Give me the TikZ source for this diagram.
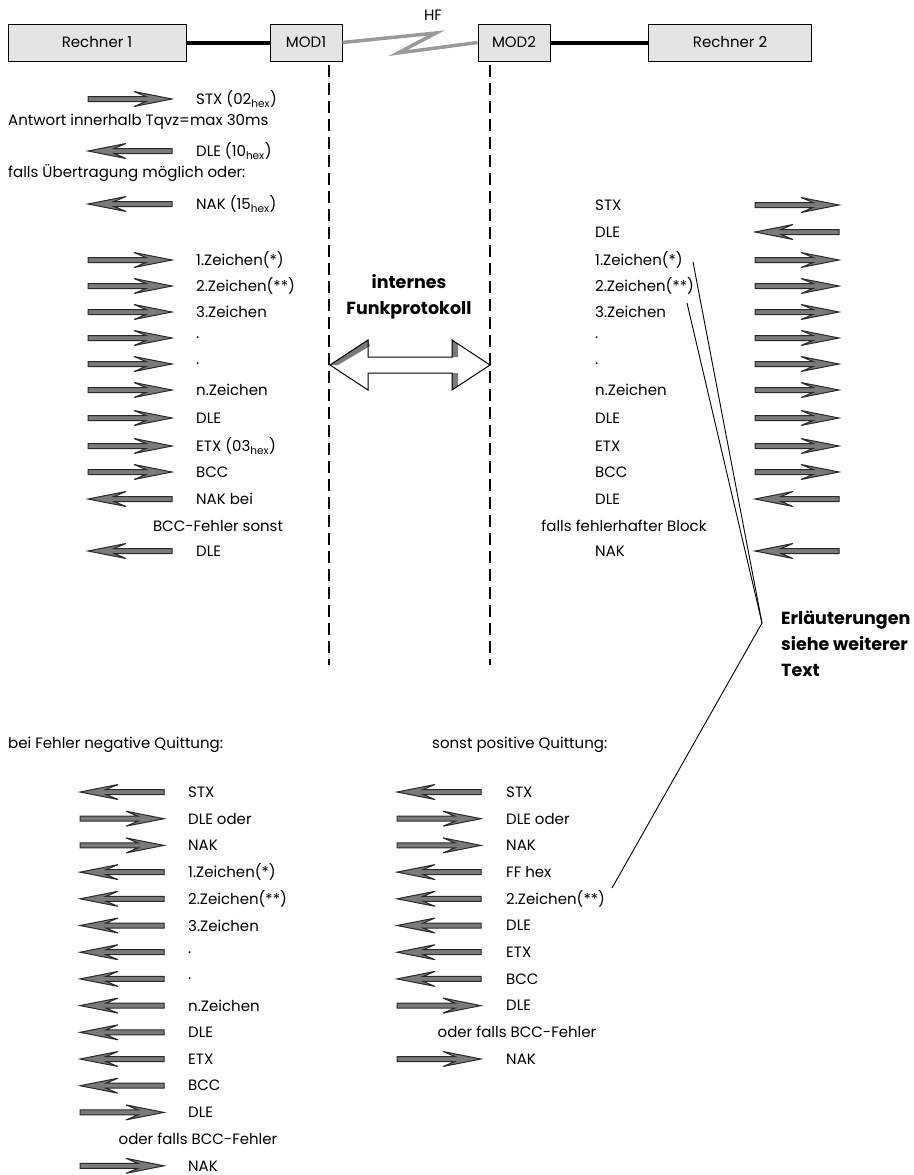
\documentclass[tikz,border=0pt]{standalone}
\usepackage{fontspec}
\setmainfont{Poppins}
\definecolor{boxgray}{HTML}{E4E4E4}
\definecolor{arrgray}{HTML}{7A7A7A}
\definecolor{arrdark}{HTML}{2A2A2A}
\definecolor{ziggray}{HTML}{9A9A9A}
\begin{document}
\begin{tikzpicture}[x=1pt,y=-1pt,
  lbl/.style={anchor=west,inner sep=0pt,font=\fontsize{15}{17}\selectfont},
  clbl/.style={anchor=center,inner sep=0pt,font=\fontsize{15}{17}\selectfont},
  box/.style={draw=black,fill=boxgray,line width=0.8pt,inner sep=0pt,font=\fontsize{15}{17}\selectfont},
  arrowshape/.style={fill=arrgray,draw=arrdark,line width=1pt,line join=miter},
  pics/rar/.style={code={\path[arrowshape] (0,-2.5) -- (58,-2.5) -- (46,-7.5) -- (84,0) -- (46,7.5) -- (58,2.5) -- (0,2.5) -- cycle;}},
  pics/lar/.style={code={\path[arrowshape] (84,-2.5) -- (26,-2.5) -- (38,-7.5) -- (0,0) -- (38,7.5) -- (26,2.5) -- (84,2.5) -- cycle;}},
  dashline/.style={line width=2pt,dash pattern=on 12pt off 6pt},
  leader/.style={line width=0.9pt},
  bigbold/.style={inner sep=0pt,font=\fontsize{17.5}{26}\selectfont\bfseries},
]
\useasboundingbox (0,0) rectangle (913,1175);

% top row
\node[box,minimum width=178pt,minimum height=37pt] (r1) at (97,42.5) {Rechner 1};
\node[box,minimum width=72pt,minimum height=37pt] (m1) at (306,42.5) {MOD1};
\node[box,minimum width=72pt,minimum height=37pt] (m2) at (514,42.5) {MOD2};
\node[box,minimum width=163pt,minimum height=37pt] (r2) at (730,42.5) {Rechner 2};
\draw[line width=4pt] (r1.east) -- (m1.west);
\draw[line width=4pt] (m2.east) -- (r2.west);
\coordinate (zA) at (436,33);
\coordinate (zB) at (398,53);
\draw[line width=3.5pt,ziggray,line join=miter] (m1.east) -- (zA) -- (zB) -- (m2.west);
\node[clbl] (hf) at (433,15) {HF};

% dashed lines
\coordinate (d1t) at (329,65); \coordinate (d1b) at (329,665);
\coordinate (d2t) at (490,65); \coordinate (d2b) at (490,665);
\draw[dashline] (d1t) -- (d1b);
\draw[dashline] (d2t) -- (d2b);

% centre
\node[bigbold,anchor=center,align=center] (ifp) at (409,297) {internes\\Funkprotokoll};
\fill[white] (330,365) -- (368,340) -- (368,357) -- (452,357) -- (452,340) -- (490,365) -- (452,390) -- (452,373) -- (368,373) -- (368,390) -- cycle;
\fill[arrgray] (330,365) -- (368,340) -- (370,346) -- (338,365) -- cycle;
\fill[arrgray] (452,340) -- (458,344) -- (458,357) -- (452,357) -- cycle;
\fill[arrgray] (452,373) -- (458,373) -- (458,386) -- (452,390) -- cycle;
\draw[line width=1pt,line join=miter] (330,365) -- (368,340) -- (368,357) -- (452,357) -- (452,340) -- (490,365) -- (452,390) -- (452,373) -- (368,373) -- (368,390) -- cycle;

% left top column
\pic at (88,99) {rar};   \node[lbl] (lt1) at (196,99) {STX (02\textsubscript{hex})};
\node[lbl] (ant) at (8,122) {Antwort innerhalb Tqvz=max 30ms};
\pic at (88,151) {lar};  \node[lbl] (lt2) at (196,151) {DLE (10\textsubscript{hex})};
\node[lbl] (fal) at (8,173) {falls Übertragung möglich oder:};
\pic at (88,204) {lar};  \node[lbl] (lt3) at (196,204) {NAK (15\textsubscript{hex})};
\pic at (88,260) {rar};  \node[lbl] (lt4) at (196,260) {1.Zeichen(*)};
\pic at (88,286) {rar};  \node[lbl] (lt5) at (196,286) {2.Zeichen(**)};
\pic at (88,312) {rar};  \node[lbl] (lt6) at (196,312) {3.Zeichen};
\pic at (88,338) {rar};  \node[lbl] (lt7) at (196,338) {.};
\pic at (88,364) {rar};  \node[lbl] (lt8) at (196,364) {.};
\pic at (88,390) {rar};  \node[lbl] (lt9) at (196,390) {n.Zeichen};
\pic at (88,418) {rar};  \node[lbl] (lt10) at (196,418) {DLE};
\pic at (88,446) {rar};  \node[lbl] (lt11) at (196,446) {ETX (03\textsubscript{hex})};
\pic at (88,472) {rar};  \node[lbl] (lt12) at (196,472) {BCC};
\pic at (88,499) {lar};  \node[lbl] (lt13) at (196,499) {NAK bei};
\node[clbl] (lt14) at (218,526) {BCC-Fehler sonst};
\pic at (88,551) {lar};  \node[lbl] (lt15) at (196,551) {DLE};

% right top column
\node[lbl] (rt1) at (595,205) {STX};            \pic at (755,205) {rar};
\node[lbl] (rt2) at (595,232) {DLE};            \pic at (755,232) {lar};
\node[lbl] (rt3) at (595,260) {1.Zeichen(*)};   \pic at (755,260) {rar};
\node[lbl] (rt4) at (595,286) {2.Zeichen(**)};  \pic at (755,286) {rar};
\node[lbl] (rt5) at (595,312) {3.Zeichen};      \pic at (755,312) {rar};
\node[lbl] (rt6) at (595,338) {.};              \pic at (755,338) {rar};
\node[lbl] (rt7) at (595,364) {.};              \pic at (755,364) {rar};
\node[lbl] (rt8) at (595,390) {n.Zeichen};      \pic at (755,390) {rar};
\node[lbl] (rt9) at (595,418) {DLE};            \pic at (755,418) {rar};
\node[lbl] (rt10) at (595,446) {ETX};           \pic at (755,446) {rar};
\node[lbl] (rt11) at (595,472) {BCC};           \pic at (755,472) {rar};
\node[lbl] (rt12) at (595,499) {DLE};           \pic at (755,499) {lar};
\node[clbl] (rt13) at (624,526) {falls fehlerhafter Block};
\node[lbl] (rt14) at (595,551) {NAK};           \pic at (755,551) {lar};

% explanation
\node[bigbold,anchor=north west,align=left] (erl) at (781,611) {Erläuterungen\\siehe weiterer\\Text};
\coordinate (apex) at (762,623);
\coordinate (la) at (693,262);
\coordinate (lb) at (687,303);
\coordinate (lc) at (612,888);
\draw[leader] (la) -- (apex) -- (lc);
\draw[leader] (lb) -- (apex);

% bottom headings
\node[lbl] (neg) at (8,745) {bei Fehler negative Quittung:};
\node[lbl] (pos) at (432,745) {sonst positive Quittung:};

% bottom left column
\pic at (80,792) {lar};     \node[lbl] (lb1) at (188,792) {STX};
\pic at (80,818.7) {rar};   \node[lbl] (lb2) at (188,818.7) {DLE oder};
\pic at (80,845.4) {rar};   \node[lbl] (lb3) at (188,845.4) {NAK};
\pic at (80,872.1) {lar};   \node[lbl] (lb4) at (188,872.1) {1.Zeichen(*)};
\pic at (80,898.8) {lar};   \node[lbl] (lb5) at (188,898.8) {2.Zeichen(**)};
\pic at (80,925.5) {lar};   \node[lbl] (lb6) at (188,925.5) {3.Zeichen};
\pic at (80,952.2) {lar};   \node[lbl] (lb7) at (188,952.2) {.};
\pic at (80,978.9) {lar};   \node[lbl] (lb8) at (188,978.9) {.};
\pic at (80,1005.6) {lar};  \node[lbl] (lb9) at (188,1005.6) {n.Zeichen};
\pic at (80,1032.3) {lar};  \node[lbl] (lb10) at (188,1032.3) {DLE};
\pic at (80,1059) {lar};    \node[lbl] (lb11) at (188,1059) {ETX};
\pic at (80,1085.7) {lar};  \node[lbl] (lb12) at (188,1085.7) {BCC};
\pic at (80,1112.4) {rar};  \node[lbl] (lb13) at (188,1112.4) {DLE};
\node[clbl] (lb14) at (198,1139.1) {oder falls BCC-Fehler};
\pic at (80,1165.8) {rar};  \node[lbl] (lb15) at (188,1165.8) {NAK};

% bottom middle column
\pic at (397,792) {lar};     \node[lbl] (mb1) at (506,792) {STX};
\pic at (397,818.7) {rar};   \node[lbl] (mb2) at (506,818.7) {DLE oder};
\pic at (397,845.4) {rar};   \node[lbl] (mb3) at (506,845.4) {NAK};
\pic at (397,872.1) {lar};   \node[lbl] (mb4) at (506,872.1) {FF hex};
\pic at (397,898.8) {lar};   \node[lbl] (mb5) at (506,898.8) {2.Zeichen(**)};
\pic at (397,925.5) {lar};   \node[lbl] (mb6) at (506,925.5) {DLE};
\pic at (397,952.2) {lar};   \node[lbl] (mb7) at (506,952.2) {ETX};
\pic at (397,978.9) {lar};   \node[lbl] (mb8) at (506,978.9) {BCC};
\pic at (397,1005.6) {rar};  \node[lbl] (mb9) at (506,1005.6) {DLE};
\node[clbl] (mb10) at (517,1032.3) {oder falls BCC-Fehler};
\pic at (397,1059) {rar};    \node[lbl] (mb11) at (506,1059) {NAK};
\end{tikzpicture}
\end{document}
